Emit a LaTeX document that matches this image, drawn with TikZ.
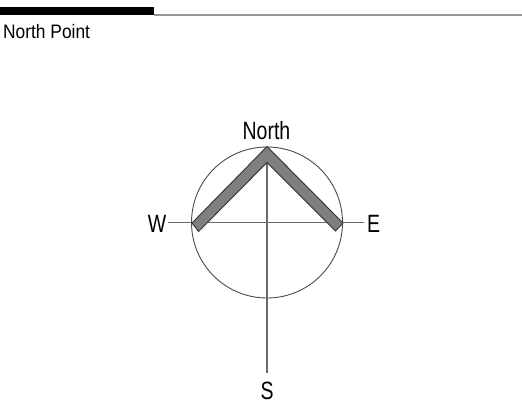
\documentclass[tikz,border=0pt]{standalone}
\usepackage{fontspec}
\setmainfont{Liberation Sans}
\newfontfamily\titlefont[FakeStretch=0.89]{Liberation Sans}
\newfontfamily\labelfont[FakeStretch=0.78]{Liberation Sans}
\definecolor{chev}{HTML}{7F7F7F}
\definecolor{chevline}{HTML}{333333}
\definecolor{axis}{HTML}{6A6A6A}
\definecolor{ring}{HTML}{4A4A4A}
\begin{document}
\begin{tikzpicture}[x=1pt,y=-1pt,
  lbl/.style={font=\labelfont\fontsize{25}{25}\selectfont, inner sep=0pt, anchor=base},
  axisline/.style={draw=axis, line width=1.4pt},
  ring/.style={draw=ring, line width=0.9pt},
  chevron/.style={fill=chev, draw=chevline, line width=0.9pt, line join=miter}]
\useasboundingbox (0,0) rectangle (522,405);
% header
\fill[black] (0,7) rectangle (154,15);
\draw[draw=gray!80, line width=2pt] (154,15) -- (522,15);
\node[font=\titlefont\fontsize{19.5}{19.5}\selectfont, inner sep=0pt, anchor=base west] (title) at (3,38) {North Point};
% compass
\coordinate (c) at (267,222.5);
\node[lbl] (north) at (266.5,139) {North};
\node[lbl] (w) at (157,232) {W};
\node[lbl] (e) at (373.5,232) {E};
\node[lbl] (s) at (267,399) {S};
\coordinate (wend) at (168,222.5);
\coordinate (eend) at (364,222.5);
\coordinate (top) at (267,163);
\coordinate (bot) at (267,373);
\draw[axisline] (wend) -- (eend);
\draw[axisline] (top) -- (bot);
\draw[ring] (c) circle (75.5);
\draw[chevron] (267,146.5) -- (343,223) -- (335.5,231) -- (267,162.5) -- (198.5,231.5) -- (192,223) -- cycle;
\end{tikzpicture}
\end{document}
